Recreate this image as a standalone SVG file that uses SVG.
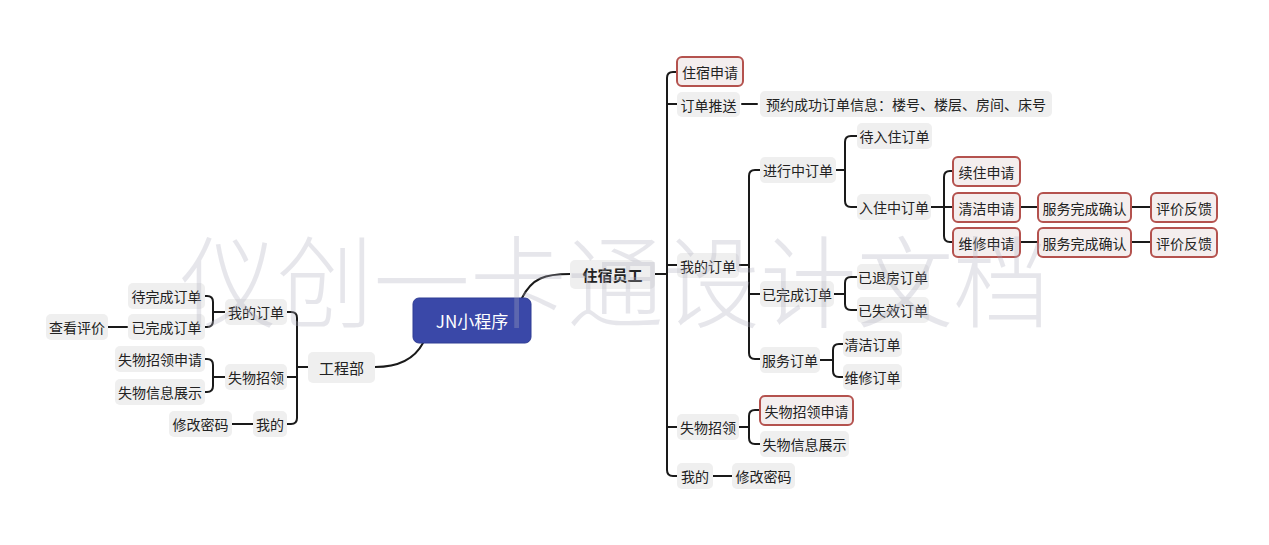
<svg xmlns="http://www.w3.org/2000/svg" width="1269" height="545" viewBox="0 0 1269 545">
<style>
text{font-family:"Noto Sans CJK SC","Noto Sans",sans-serif;font-size:14px;fill:#222;dominant-baseline:central;text-anchor:middle}
.n rect{fill:#efefef;stroke:none}
.r rect{fill:#f4eeee;stroke:#b4524e;stroke-width:2}
.c{fill:none;stroke:#1a1a1a;stroke-width:2;stroke-linecap:round;stroke-linejoin:round}
.wm{font-size:100px;font-weight:300;fill:#b0b0c0;opacity:0.3;text-anchor:start;dominant-baseline:auto}
</style>
<rect width="1269" height="545" fill="#fff"/>
<g id="connectors" class="c">
<path d="M522 298 C532 278 545 274 570 274"/>
<path d="M375 367 C400 367 415 358 423 343"/>
<path d="M655 274 H667"/>
<path d="M677 72 H673 Q667 72 667 78 V470 Q667 476 673 476 H677"/>
<path d="M667 104 H677"/>
<path d="M667 265 H677"/>
<path d="M667 427 H677"/>
<path d="M742 104 H757"/>
<path d="M739 265 H749"/>
<path d="M760 170 H755 Q749 170 749 176 V353 Q749 359 755 359 H760"/>
<path d="M749 294 H760"/>
<path d="M836 170 H845"/>
<path d="M857 136 H851 Q845 136 845 142 V201 Q845 207 851 207 H857"/>
<path d="M931 207 H944"/>
<path d="M953 171 H950 Q944 171 944 177 V236 Q944 242 950 242 H953"/>
<path d="M944 207 H953"/>
<path d="M1020 207 H1038"/>
<path d="M1020 242 H1038"/>
<path d="M1131 207 H1151"/>
<path d="M1131 242 H1151"/>
<path d="M834 294 H845"/>
<path d="M857 277 H851 Q845 277 845 283 V304 Q845 310 851 310 H857"/>
<path d="M820 360 H833"/>
<path d="M843 344 H839 Q833 344 833 350 V371 Q833 377 839 377 H843"/>
<path d="M739 427 H749"/>
<path d="M760 410 H755 Q749 410 749 416 V438 Q749 444 755 444 H760"/>
<path d="M713 476 H732"/>
<path d="M308 367 H297"/>
<path d="M287 312 H291 Q297 312 297 318 V418 Q297 424 291 424 H287"/>
<path d="M297 377 H287"/>
<path d="M225 312 H213"/>
<path d="M205 296 H207 Q213 296 213 302 V321 Q213 327 207 327 H205"/>
<path d="M108 327 H127"/>
<path d="M225 377 H213"/>
<path d="M205 359 H207 Q213 359 213 365 V386 Q213 392 207 392 H205"/>
<path d="M253 424 H232"/>
</g>
<g id="root"><rect x="413" y="298" width="118" height="45" rx="6" fill="#3a48a8" stroke="#2f3c94" stroke-width="1"/><text x="472" y="320.5" style="fill:#fff;font-size:17px">JN小程序</text></g>
<g id="n-zsyg" class="n"><rect x="570" y="260" width="85" height="29" rx="5"/><text x="612.5" y="274.5" style="font-size:15px;font-weight:bold">住宿员工</text></g>
<g id="n-gcb" class="n"><rect x="308" y="352" width="67" height="31" rx="5"/><text x="341.5" y="367.5" style="font-size:15px">工程部</text></g>
<g id="n-zssq" class="r"><rect x="677" y="57" width="66" height="29" rx="5"/><text x="710" y="71.5">住宿申请</text></g>
<g id="n-ddts" class="n"><rect x="677" y="92" width="63" height="25" rx="5"/><text x="708.5" y="104.5">订单推送</text></g>
<g id="n-yycg" class="n"><rect x="760" y="91" width="292" height="26" rx="5"/><text x="906" y="104">预约成功订单信息：楼号、楼层、房间、床号</text></g>
<g id="n-wddd" class="n"><rect x="677" y="253" width="62" height="25" rx="5"/><text x="708" y="265.5">我的订单</text></g>
<g id="n-jxz" class="n"><rect x="760" y="157" width="76" height="26" rx="5"/><text x="798" y="170">进行中订单</text></g>
<g id="n-drz" class="n"><rect x="857" y="123" width="75" height="26" rx="5"/><text x="894.5" y="136">待入住订单</text></g>
<g id="n-rzz" class="n"><rect x="857" y="194" width="74" height="26" rx="5"/><text x="894" y="207">入住中订单</text></g>
<g id="n-xzsq" class="r"><rect x="953" y="157" width="67" height="29" rx="5"/><text x="986.5" y="171.5">续住申请</text></g>
<g id="n-qjsq" class="r"><rect x="953" y="193" width="67" height="29" rx="5"/><text x="986.5" y="207.5">清洁申请</text></g>
<g id="n-wxsq" class="r"><rect x="953" y="228" width="67" height="29" rx="5"/><text x="986.5" y="242.5">维修申请</text></g>
<g id="n-fwqr1" class="r"><rect x="1038" y="193" width="93" height="29" rx="5"/><text x="1084.5" y="207.5">服务完成确认</text></g>
<g id="n-fwqr2" class="r"><rect x="1038" y="228" width="93" height="29" rx="5"/><text x="1084.5" y="242.5">服务完成确认</text></g>
<g id="n-pjfk1" class="r"><rect x="1151" y="193" width="66" height="29" rx="5"/><text x="1184" y="207.5">评价反馈</text></g>
<g id="n-pjfk2" class="r"><rect x="1151" y="228" width="66" height="29" rx="5"/><text x="1184" y="242.5">评价反馈</text></g>
<g id="n-ywc" class="n"><rect x="760" y="281" width="74" height="26" rx="5"/><text x="797" y="294">已完成订单</text></g>
<g id="n-ytf" class="n"><rect x="857" y="264" width="72" height="26" rx="5"/><text x="893" y="277">已退房订单</text></g>
<g id="n-ysx" class="n"><rect x="857" y="297" width="72" height="26" rx="5"/><text x="893" y="310">已失效订单</text></g>
<g id="n-fwdd" class="n"><rect x="760" y="347" width="60" height="26" rx="5"/><text x="790" y="360">服务订单</text></g>
<g id="n-qjdd" class="n"><rect x="843" y="331" width="59" height="26" rx="5"/><text x="872.5" y="344">清洁订单</text></g>
<g id="n-wxdd" class="n"><rect x="843" y="364" width="59" height="26" rx="5"/><text x="872.5" y="377">维修订单</text></g>
<g id="n-swzl-r" class="n"><rect x="677" y="414" width="62" height="26" rx="5"/><text x="708" y="427">失物招领</text></g>
<g id="n-swzlsq-r" class="r"><rect x="760" y="396" width="93" height="29" rx="5"/><text x="806.5" y="410.5">失物招领申请</text></g>
<g id="n-swxx-r" class="n"><rect x="760" y="431" width="89" height="26" rx="5"/><text x="804.5" y="444">失物信息展示</text></g>
<g id="n-wd-r" class="n"><rect x="677" y="463" width="36" height="26" rx="5"/><text x="695" y="476">我的</text></g>
<g id="n-xgmm-r" class="n"><rect x="732" y="463" width="63" height="26" rx="5"/><text x="763.5" y="476">修改密码</text></g>
<g id="n-wddd-l" class="n"><rect x="225" y="299" width="62" height="26" rx="5"/><text x="256" y="312">我的订单</text></g>
<g id="n-dwc-l" class="n"><rect x="128" y="283" width="77" height="26" rx="5"/><text x="166.5" y="296">待完成订单</text></g>
<g id="n-ywc-l" class="n"><rect x="128" y="314" width="77" height="26" rx="5"/><text x="166.5" y="327">已完成订单</text></g>
<g id="n-ckpj-l" class="n"><rect x="46" y="314" width="62" height="26" rx="5"/><text x="77" y="327">查看评价</text></g>
<g id="n-swzl-l" class="n"><rect x="225" y="364" width="62" height="26" rx="5"/><text x="256" y="377">失物招领</text></g>
<g id="n-swzlsq-l" class="n"><rect x="115" y="346" width="90" height="26" rx="5"/><text x="160" y="359">失物招领申请</text></g>
<g id="n-swxx-l" class="n"><rect x="115" y="379" width="90" height="26" rx="5"/><text x="160" y="392">失物信息展示</text></g>
<g id="n-wd-l" class="n"><rect x="253" y="411" width="34" height="26" rx="5"/><text x="270" y="424">我的</text></g>
<g id="n-xgmm-l" class="n"><rect x="169" y="411" width="63" height="26" rx="5"/><text x="200.5" y="424">修改密码</text></g>
<text class="wm" x="180" y="320" textLength="870" lengthAdjust="spacingAndGlyphs">仪创一卡通设计文档</text>
</svg>
